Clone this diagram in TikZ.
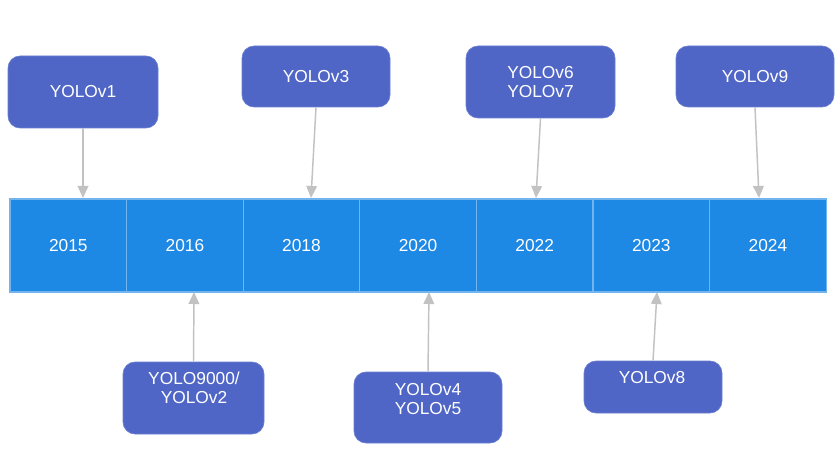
\documentclass[tikz,border=0pt]{standalone}
\usepackage{fontspec}
\setmainfont{Liberation Sans}
\usetikzlibrary{arrows.meta}
\definecolor{barblue}{HTML}{1E88E5}
\definecolor{cellline}{HTML}{72B4EE}
\definecolor{boxblue}{HTML}{5066C6}
\definecolor{boxedge}{HTML}{6A7ED0}
\definecolor{linkgray}{HTML}{C2C2C2}
\tikzset{
  yearcell/.style={draw=cellline, line width=0.9pt, fill=barblue, minimum width=87.45pt, minimum height=69.75pt, inner sep=0pt, outer sep=0pt, text=white, font=\fontsize{13}{15}\selectfont},
  verbox/.style={draw=boxedge, line width=0.5pt, fill=boxblue, rounded corners=9pt, inner sep=0pt},
  vertext/.style={text=white, font=\fontsize{13}{14.5}\selectfont, align=center, inner sep=0pt},
  link/.style={draw=linkgray, line width=1.1pt, -{Triangle[length=9pt,width=8pt]}}
}
\begin{document}
\begin{tikzpicture}[x=0.75pt, y=-0.75pt]
\useasboundingbox (0,0) rectangle (839,456);
% timeline bar
\node[yearcell, anchor=north west] (y2015) at (10,199) {2015};
\node[yearcell, anchor=west] (y2016) at (y2015.east) {2016};
\node[yearcell, anchor=west] (y2018) at (y2016.east) {2018};
\node[yearcell, anchor=west] (y2020) at (y2018.east) {2020};
\node[yearcell, anchor=west] (y2022) at (y2020.east) {2022};
\node[yearcell, anchor=west] (y2023) at (y2022.east) {2023};
\node[yearcell, anchor=west] (y2024) at (y2023.east) {2024};
\draw[cellline, line width=0.9pt] (y2015.north west) rectangle (y2024.south east);

% version boxes above the bar
\node[verbox, minimum width=112.5pt, minimum height=54pt] (v1) at (83,92) {};
\node[vertext] (t1) at (83,92) {YOLOv1};
\node[verbox, minimum width=111pt, minimum height=45.75pt] (v3) at (316,76.5) {};
\node[vertext] (t3) at (316,76.5) {YOLOv3};
\node[verbox, minimum width=111.75pt, minimum height=54pt] (v67) at (540.5,82) {};
\node[vertext] (t67) at (540.5,82) {YOLOv6\\YOLOv7};
\node[verbox, minimum width=118.5pt, minimum height=45.75pt] (v9) at (755,76.5) {};
\node[vertext] (t9) at (755,76.5) {YOLOv9};

% version boxes below the bar
\node[verbox, minimum width=105.75pt, minimum height=54pt] (v2) at (193.5,398) {};
\node[vertext] (t2) at (194,388) {YOLO9000/\\YOLOv2};
\node[verbox, minimum width=111pt, minimum height=53.25pt] (v45) at (428,407.5) {};
\node[vertext] (t45) at (428,399) {YOLOv4\\YOLOv5};
\node[verbox, minimum width=103.5pt, minimum height=39pt] (v8) at (653,387) {};
\node[vertext] (t8) at (652,378) {YOLOv8};

% anchor points on the bar edges
\coordinate (p1) at (83,198);
\coordinate (p3) at (311,198);
\coordinate (p67) at (536,198);
\coordinate (p9) at (759,198);
\coordinate (p2) at (194,292);
\coordinate (p45) at (429,292);
\coordinate (p8) at (657,292);

% connectors
\draw[link] (v1.south) -- (p1);
\draw[link] (v3.south) -- (p3);
\draw[link] (v67.south) -- (p67);
\draw[link] (v9.south) -- (p9);
\draw[link] (v2.north) -- (p2);
\draw[link] (v45.north) -- (p45);
\draw[link] (v8.north) -- (p8);
\end{tikzpicture}
\end{document}
